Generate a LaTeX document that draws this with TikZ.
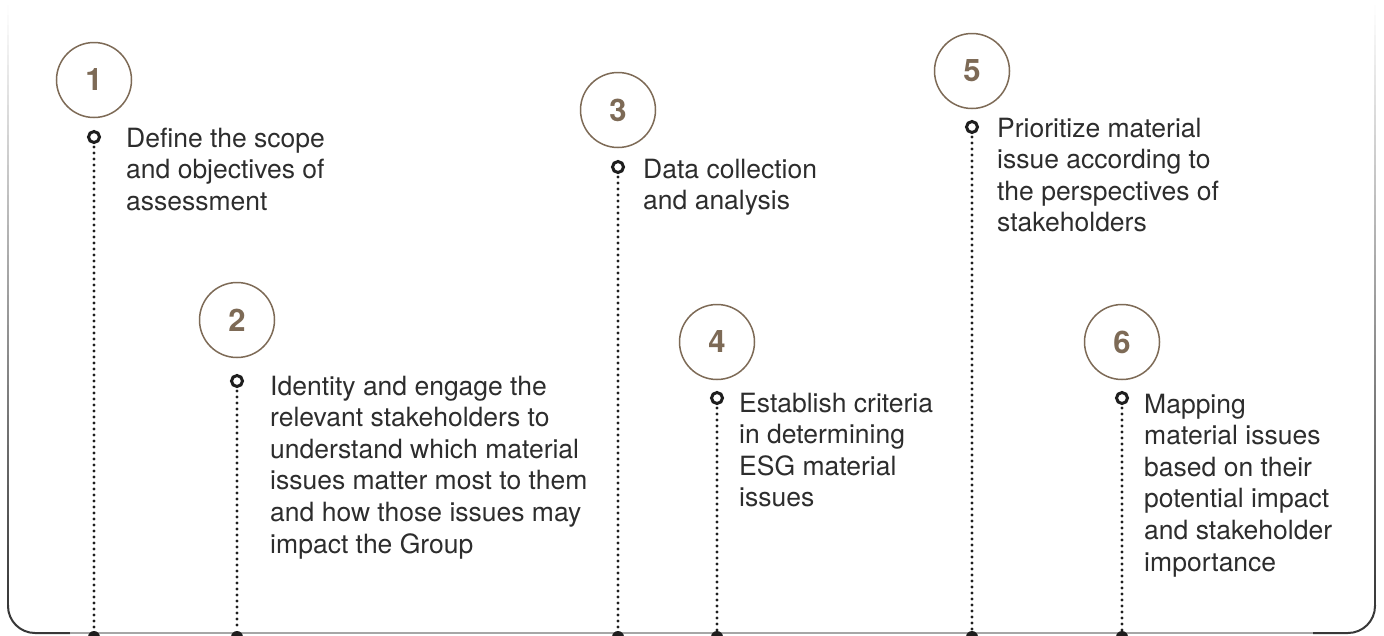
\documentclass[tikz,border=0pt]{standalone}
\usepackage{fontspec}
\setmainfont{TeX Gyre Heros}
\definecolor{brownc}{RGB}{125,106,86}
\definecolor{txt}{RGB}{45,45,45}
\definecolor{ink}{RGB}{30,30,30}
\newcommand{\lines}[1]{\begin{tabular}[t]{@{}l@{}}#1\end{tabular}}
\begin{document}
\begin{tikzpicture}[x=1pt,y=-1pt,
  bigc/.style={circle,draw=brownc,line width=1.5pt,minimum size=75pt,inner sep=0pt,text=brownc,font=\fontsize{31}{31}\selectfont\bfseries},
  smallc/.style={circle,draw=ink,line width=3pt,minimum size=11pt,inner sep=0pt},
  marker/.style={circle,fill=ink,minimum size=12pt,inner sep=0pt},
  dotline/.style={draw=ink,line width=3.1pt,line cap=round,dash pattern=on 0pt off 6pt,shorten <=3pt},
  desc/.style={anchor=base west,inner sep=0pt,text=txt,font=\fontsize{26.5}{31.6}\selectfont},
  frameline/.style={line width=2pt}
]
\useasboundingbox (0,0) rectangle (1384,635);
\fill[white] (0,0) rectangle (1384,635);

% frame: side edges fading upward
\foreach \i in {0,...,59} {
  \pgfmathsetmacro\ya{5+\i*10}
  \pgfmathsetmacro\yb{\ya+10.5}
  \pgfmathsetmacro\cc{78*((\i+0.5)/60)^1.0}
  \draw[frameline,draw=black!\cc] (8,\ya) -- (8,\yb);
  \draw[frameline,draw=black!\cc] (1375,\ya) -- (1375,\yb);
}
\draw[frameline,draw=black!78,rounded corners=27pt] (8,605) -- (8,633) -- (70,633);
\draw[frameline,draw=black!78,rounded corners=27pt] (1313,633) -- (1375,633) -- (1375,605);
\draw[frameline,draw=black!35] (70,633) -- (1313,633);

% step 1
\node[bigc] (c1) at (94,80) {1};
\node[smallc] (s1) at (94,137) {};
\node[marker] (m1) at (94,637) {};
\draw[dotline] (s1) -- (m1);
\node[desc] (t1) at (126,147) {\lines{Define the scope\\and objectives of\\assessment}};

% step 2
\node[bigc] (c2) at (237,320) {2};
\node[smallc] (s2) at (237,381) {};
\node[marker] (m2) at (237,637) {};
\draw[dotline] (s2) -- (m2);
\node[desc] (t2) at (270,395) {\lines{Identity and engage the\\relevant stakeholders to\\understand which material\\issues matter most to them\\and how those issues may\\impact the Group}};

% step 3
\node[bigc] (c3) at (618,110) {3};
\node[smallc] (s3) at (618,167) {};
\node[marker] (m3) at (618,637) {};
\draw[dotline] (s3) -- (m3);
\node[desc] (t3) at (643,178) {\lines{Data collection\\and analysis}};

% step 4
\node[bigc] (c4) at (717,342) {4};
\node[smallc] (s4) at (717,398) {};
\node[marker] (m4) at (717,637) {};
\draw[dotline] (s4) -- (m4);
\node[desc] (t4) at (739,412) {\lines{Establish criteria\\in determining\\ESG material\\issues}};

% step 5
\node[bigc] (c5) at (972,71) {5};
\node[smallc] (s5) at (972,127) {};
\node[marker] (m5) at (972,637) {};
\draw[dotline] (s5) -- (m5);
\node[desc] (t5) at (997,137) {\lines{Prioritize material\\issue according to\\the perspectives of\\stakeholders}};

% step 6
\node[bigc] (c6) at (1122,342) {6};
\node[smallc] (s6) at (1122,398) {};
\node[marker] (m6) at (1122,637) {};
\draw[dotline] (s6) -- (m6);
\node[desc] (t6) at (1144,413) {\lines{Mapping\\material issues\\based on their\\potential impact\\and stakeholder\\importance}};
\end{tikzpicture}
\end{document}
